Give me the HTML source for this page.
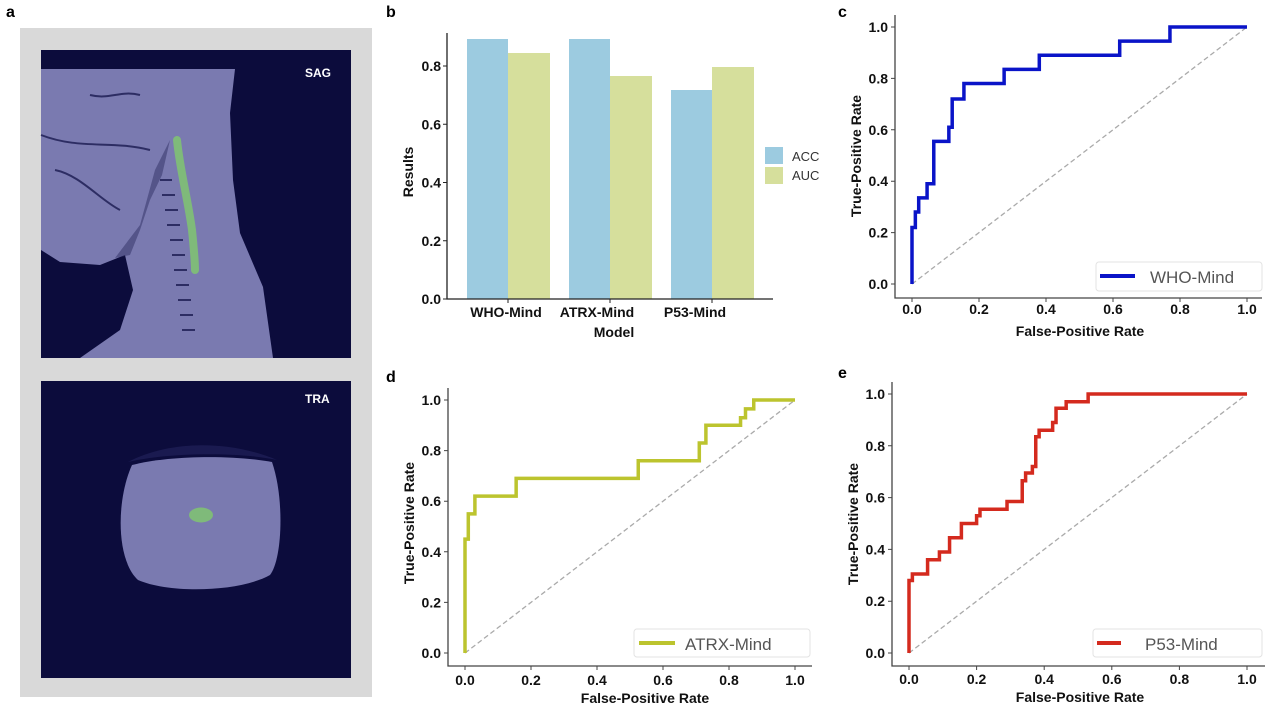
<!DOCTYPE html>
<html><head><meta charset="utf-8"><style>
html,body{margin:0;padding:0;background:#fff;}
svg{display:block;font-family:"Liberation Sans",sans-serif;}
.t{font-size:14px;font-weight:bold;fill:#111;}
.lab{font-size:14px;font-weight:bold;fill:#111;}
.pl{font-size:16px;font-weight:bold;fill:#000;}
.lg{font-size:17px;fill:#555;}
</style></head><body>
<svg width="1269" height="707" viewBox="0 0 1269 707">
<!-- Panel a -->
<text class="pl" x="6" y="17">a</text>
<rect x="20" y="28" width="352" height="669" fill="#d9d9d9"/>
<rect x="41" y="50" width="310" height="308" fill="#0c0c3c"/>
<path d="M41,69 L235,69 L230,113 L233,180 L240,233 L263,287 L273,358 L80,358 L120,330 L133,290 L125,255 L100,265 L60,262 L41,250 Z" fill="#7a7ab0"/>
<path d="M170,140 L162,175 L150,200 L140,230 L130,255 L115,258 L140,225 L155,170 Z" fill="#3a3a70" opacity="0.6"/>
<g stroke="#1a1a50" stroke-width="2" fill="none" opacity="0.8">
<path d="M160,180 h12 M162,195 h13 M165,210 h13 M167,225 h13 M170,240 h13 M172,255 h13 M174,270 h13 M176,285 h13 M178,300 h13 M180,315 h13 M182,330 h13"/>
<path d="M41,135 C80,150 110,140 150,150 M90,95 C110,100 120,90 140,95 M55,170 C80,175 100,200 120,210"/>
</g>
<path d="M177,140 C180,170 188,200 192,230 C194,250 195,262 195,270" stroke="#7fba7a" stroke-width="8" stroke-linecap="round" fill="none"/>
<text x="305" y="77" font-size="12" font-weight="bold" fill="#fff">SAG</text>
<rect x="41" y="381" width="310" height="297" fill="#0c0c3c"/>
<path d="M132,465 C170,455 235,455 272,462 C285,500 282,560 270,575 C240,592 170,594 138,580 C116,560 116,500 132,465 Z" fill="#7a7ab0"/>
<path d="M128,462 C170,440 230,440 277,460 C240,452 170,452 128,462 Z" fill="#1a1a50"/>
<ellipse cx="201" cy="515" rx="12" ry="7.5" fill="#7fba7a"/>
<text x="305" y="403" font-size="12" font-weight="bold" fill="#fff">TRA</text>

<!-- Panel b -->
<text class="pl" x="386" y="17">b</text>
<g>
<rect x="467" y="39" width="41" height="260" fill="#9ccbe0"/>
<rect x="508" y="53" width="42" height="246" fill="#d6df9c"/>
<rect x="569" y="39" width="41" height="260" fill="#9ccbe0"/>
<rect x="610" y="76" width="42" height="223" fill="#d6df9c"/>
<rect x="671" y="90" width="41" height="209" fill="#9ccbe0"/>
<rect x="712" y="67" width="42" height="232" fill="#d6df9c"/>
<path d="M447,33 V299 H773" stroke="#222" stroke-width="1.3" fill="none"/>
<g stroke="#222" stroke-width="1">
<path d="M443,299h4M443,240.75h4M443,182.5h4M443,124.25h4M443,66h4"/>
<path d="M508,299v4M610,299v4M712,299v4"/>
</g>
<g class="t" text-anchor="end">
<text x="441" y="304">0.0</text><text x="441" y="245.75">0.2</text><text x="441" y="187.5">0.4</text><text x="441" y="129.25">0.6</text><text x="441" y="71">0.8</text>
</g>
<g class="t" text-anchor="middle">
<text x="506" y="317">WHO-Mind</text><text x="597" y="317">ATRX-Mind</text><text x="695" y="317">P53-Mind</text>
<text x="614" y="337">Model</text>
</g>
<text class="lab" transform="translate(413,172) rotate(-90)" text-anchor="middle">Results</text>
<rect x="765" y="147" width="18" height="17" fill="#9ccbe0"/>
<rect x="765" y="167" width="18" height="17" fill="#d6df9c"/>
<text x="792" y="161" font-size="13" fill="#333">ACC</text>
<text x="792" y="180" font-size="13" fill="#333">AUC</text>
</g>

<!-- Panel c -->
<text class="pl" x="838" y="17">c</text>
<g>
<path d="M895,15 V298 H1262" stroke="#444" stroke-width="1.3" fill="none"/>
<g stroke="#444" stroke-width="1">
<path d="M891,284h4M891,232.6h4M891,181.2h4M891,129.8h4M891,78.4h4M891,27h4"/>
<path d="M912,298v4M979,298v4M1046,298v4M1113,298v4M1180,298v4M1247,298v4"/>
</g>
<g class="t" text-anchor="end">
<text x="888" y="289">0.0</text><text x="888" y="237.6">0.2</text><text x="888" y="186.2">0.4</text><text x="888" y="134.8">0.6</text><text x="888" y="83.4">0.8</text><text x="888" y="32">1.0</text>
</g>
<g class="t" text-anchor="middle">
<text x="912" y="314">0.0</text><text x="979" y="314">0.2</text><text x="1046" y="314">0.4</text><text x="1113" y="314">0.6</text><text x="1180" y="314">0.8</text><text x="1247" y="314">1.0</text>
<text x="1080" y="336">False-Positive Rate</text>
</g>
<text class="lab" transform="translate(861,156) rotate(-90)" text-anchor="middle">True-Positive Rate</text>
<line x1="912" y1="284" x2="1247" y2="27" stroke="#aaa" stroke-width="1.3" stroke-dasharray="5,3"/>
<polyline transform="translate(912,284) scale(335,-257)" vector-effect="non-scaling-stroke" fill="none" stroke="#0a14c8" stroke-width="3.5"
points="0,0 0,0.22 0.01,0.22 0.01,0.28 0.02,0.28 0.02,0.335 0.045,0.335 0.045,0.39 0.065,0.39 0.065,0.555 0.11,0.555 0.11,0.61 0.12,0.61 0.12,0.72 0.155,0.72 0.155,0.78 0.275,0.78 0.275,0.835 0.38,0.835 0.38,0.89 0.62,0.89 0.62,0.945 0.77,0.945 0.77,1 1,1"/>
<rect x="1096" y="262" width="166" height="29" rx="3" fill="#fff" stroke="#e3e3e3"/>
<line x1="1100" y1="276" x2="1135" y2="276" stroke="#0a14c8" stroke-width="4"/>
<text class="lg" x="1150" y="283">WHO-Mind</text>
</g>

<!-- Panel d -->
<text class="pl" x="386" y="382">d</text>
<g>
<path d="M448,388 V666 H812" stroke="#444" stroke-width="1.3" fill="none"/>
<g stroke="#444" stroke-width="1">
<path d="M444,653h4M444,602.4h4M444,551.8h4M444,501.2h4M444,450.6h4M444,400h4"/>
<path d="M465,666v4M531,666v4M597,666v4M663,666v4M729,666v4M795,666v4"/>
</g>
<g class="t" text-anchor="end">
<text x="441" y="658">0.0</text><text x="441" y="607.4">0.2</text><text x="441" y="556.8">0.4</text><text x="441" y="506.2">0.6</text><text x="441" y="455.6">0.8</text><text x="441" y="405">1.0</text>
</g>
<g class="t" text-anchor="middle">
<text x="465" y="685">0.0</text><text x="531" y="685">0.2</text><text x="597" y="685">0.4</text><text x="663" y="685">0.6</text><text x="729" y="685">0.8</text><text x="795" y="685">1.0</text>
<text x="645" y="703">False-Positive Rate</text>
</g>
<text class="lab" transform="translate(414,523) rotate(-90)" text-anchor="middle">True-Positive Rate</text>
<line x1="465" y1="653" x2="795" y2="400" stroke="#aaa" stroke-width="1.3" stroke-dasharray="5,3"/>
<polyline transform="translate(465,653) scale(330,-253)" vector-effect="non-scaling-stroke" fill="none" stroke="#bcc42e" stroke-width="3.5"
points="0,0 0,0.45 0.01,0.45 0.01,0.55 0.03,0.55 0.03,0.62 0.155,0.62 0.155,0.69 0.525,0.69 0.525,0.76 0.71,0.76 0.71,0.83 0.73,0.83 0.73,0.9 0.835,0.9 0.835,0.93 0.85,0.93 0.85,0.965 0.875,0.965 0.875,1 1,1"/>
<rect x="634" y="629" width="176" height="28" rx="3" fill="#fff" stroke="#e3e3e3"/>
<line x1="639" y1="643" x2="675" y2="643" stroke="#bcc42e" stroke-width="4"/>
<text class="lg" x="685" y="650">ATRX-Mind</text>
</g>

<!-- Panel e -->
<text class="pl" x="838" y="378">e</text>
<g>
<path d="M892,382 V666 H1265" stroke="#444" stroke-width="1.3" fill="none"/>
<g stroke="#444" stroke-width="1">
<path d="M888,653h4M888,601.2h4M888,549.4h4M888,497.6h4M888,445.8h4M888,394h4"/>
<path d="M909,666v4M976.6,666v4M1044.2,666v4M1111.8,666v4M1179.4,666v4M1247,666v4"/>
</g>
<g class="t" text-anchor="end">
<text x="885" y="658">0.0</text><text x="885" y="606.2">0.2</text><text x="885" y="554.4">0.4</text><text x="885" y="502.6">0.6</text><text x="885" y="450.8">0.8</text><text x="885" y="399">1.0</text>
</g>
<g class="t" text-anchor="middle">
<text x="909" y="684">0.0</text><text x="976.6" y="684">0.2</text><text x="1044.2" y="684">0.4</text><text x="1111.8" y="684">0.6</text><text x="1179.4" y="684">0.8</text><text x="1247" y="684">1.0</text>
<text x="1080" y="702">False-Positive Rate</text>
</g>
<text class="lab" transform="translate(858,524) rotate(-90)" text-anchor="middle">True-Positive Rate</text>
<line x1="909" y1="653" x2="1247" y2="394" stroke="#aaa" stroke-width="1.3" stroke-dasharray="5,3"/>
<polyline transform="translate(909,653) scale(338,-259)" vector-effect="non-scaling-stroke" fill="none" stroke="#d42a1e" stroke-width="3.5"
points="0,0 0,0.28 0.01,0.28 0.01,0.305 0.055,0.305 0.055,0.36 0.09,0.36 0.09,0.39 0.12,0.39 0.12,0.445 0.155,0.445 0.155,0.5 0.2,0.5 0.2,0.53 0.21,0.53 0.21,0.555 0.29,0.555 0.29,0.585 0.335,0.585 0.335,0.665 0.345,0.665 0.345,0.695 0.365,0.695 0.365,0.72 0.375,0.72 0.375,0.835 0.385,0.835 0.385,0.86 0.425,0.86 0.425,0.89 0.435,0.89 0.435,0.945 0.465,0.945 0.465,0.97 0.53,0.97 0.53,1 1,1"/>
<rect x="1093" y="629" width="169" height="28" rx="3" fill="#fff" stroke="#e3e3e3"/>
<line x1="1097" y1="643" x2="1121" y2="643" stroke="#d42a1e" stroke-width="4"/>
<text class="lg" x="1145" y="650">P53-Mind</text>
</g>
</svg>
</body></html>
